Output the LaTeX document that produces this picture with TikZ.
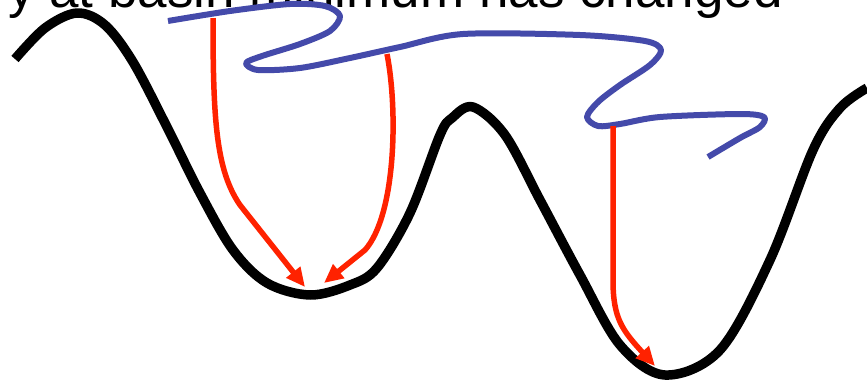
\documentclass[tikz,border=0pt]{standalone}
\usepackage{fontspec}
\setmainfont{Liberation Sans}
\usetikzlibrary{arrows.meta}
\definecolor{landred}{HTML}{FF2200}
\definecolor{landblue}{HTML}{444AAA}
\tikzset{
  landscape/.style={line width=9.5pt, black, line join=round},
  trajectory/.style={line width=6pt, landblue, line join=round},
  descent/.style={line width=5.5pt, landred, -{Triangle[length=19pt,width=17pt]}},
  caption/.style={anchor=base east, inner sep=0pt, font=\fontsize{53}{60}\selectfont}
}
\begin{document}
\begin{tikzpicture}[x=1pt,y=-1pt]
\useasboundingbox (0,0) rectangle (867,383);
\node[caption] (title) at (783,7) {y at basin minimum has changed};
% energy landscape
\draw[landscape] plot[smooth, tension=0.55] coordinates {
  (15,59) (45,28) (77,13) (105,25) (133,62) (167,127) (200,193) (233,250)
  (267,283) (310,295) (350,285) (377,268) (410,213) (440,135) (452,118) (473,107)
  (505,135) (540,200) (580,275) (620,345) (665,375) (720,350) (770,260)
  (813,150) (840,108) (867,88)};
% trajectory
\draw[trajectory] plot[smooth, tension=0.5] coordinates {
  (168,21) (230,11) (290,4) (325,6) (340,16) (330,31) (300,44) (262,56)
  (246,63) (258,70) (300,68) (350,58) (400,47) (463,34) (580,35) (645,41)
  (661,50) (650,65) (620,85) (598,102) (587,117) (598,126) (620,124)
  (660,117) (740,114) (764,117) (760,127) (740,138) (708,157)};
% start and end points of the descents
\coordinate (s1) at (213,18);
\coordinate (e1) at (305,287);
\coordinate (s2) at (387,54);
\coordinate (e2) at (324,283);
\coordinate (s3) at (613,126);
\coordinate (e3) at (655,366);
\draw[descent] (s1) .. controls (213,120) and (216,170) .. (240,205) -- (e1);
\draw[descent] (s2) .. controls (398,110) and (396,215) .. (365,250) -- (e2);
\draw[descent] (s3) -- (613,280) .. controls (613,318) and (622,330) .. (e3);
\end{tikzpicture}
\end{document}
